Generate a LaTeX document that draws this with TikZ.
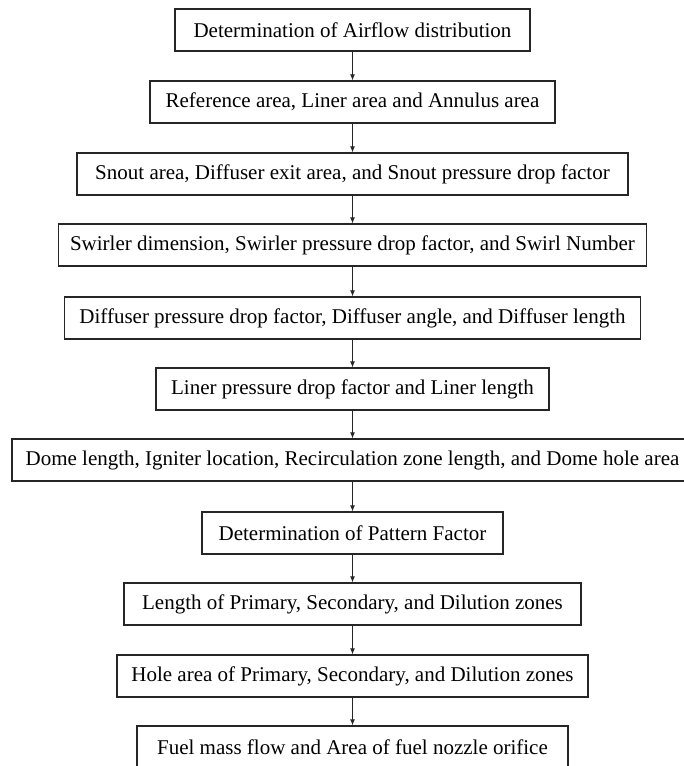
\documentclass[tikz,border=0pt]{standalone}
\usepackage{fontspec}
\setmainfont{Liberation Serif}
\usetikzlibrary{arrows.meta}

\begin{document}
\begin{tikzpicture}[x=1pt, y=-1pt,
  stepbox/.style={draw=black!85, line width=1.2pt, minimum height=42pt, inner sep=0pt,
    font=\fontsize{21}{25}\selectfont},
  flow/.style={-{Latex[length=6pt,width=5pt]}, line width=1pt, black!85}]
\useasboundingbox (0,0) rectangle (683,766);

% design steps, top to bottom
\node[stepbox, minimum width=355pt] (airflow) at (352.5,30) {Determination of Airflow distribution};
\node[stepbox, minimum width=405pt] (areas) at (352.5,102) {Reference area, Liner area and Annulus area};
\node[stepbox, minimum width=551pt] (snout) at (352.5,174) {Snout area, Diffuser exit area, and Snout pressure drop factor};
\node[stepbox, minimum width=588pt] (swirler) at (352.5,245) {Swirler dimension, Swirler pressure drop factor, and Swirl Number};
\node[stepbox, minimum width=576pt] (diffuser) at (352.5,318) {Diffuser pressure drop factor, Diffuser angle, and Diffuser length};
\node[stepbox, minimum width=393pt] (liner) at (352.5,389) {Liner pressure drop factor and Liner length};
\node[stepbox, minimum width=681pt] (dome) at (352.5,460) {Dome length, Igniter location, Recirculation zone length, and Dome hole area};
\node[stepbox, minimum width=301pt] (pattern) at (352.5,533) {Determination of Pattern Factor};
\node[stepbox, minimum width=457pt] (zonelen) at (352.5,604) {Length of Primary, Secondary, and Dilution zones};
\node[stepbox, minimum width=471pt] (holearea) at (352.5,676) {Hole area of Primary, Secondary, and Dilution zones};
\node[stepbox, minimum width=431pt] (fuel) at (352.5,747) {Fuel mass flow and Area of fuel nozzle orifice};

% arrows between steps
\draw[flow] (airflow.south) -- (areas.north);
\draw[flow] (areas.south) -- (snout.north);
\draw[flow] (snout.south) -- (swirler.north);
\draw[flow] (swirler.south) -- (diffuser.north);
\draw[flow] (diffuser.south) -- (liner.north);
\draw[flow] (liner.south) -- (dome.north);
\draw[flow] (dome.south) -- (pattern.north);
\draw[flow] (pattern.south) -- (zonelen.north);
\draw[flow] (zonelen.south) -- (holearea.north);
\draw[flow] (holearea.south) -- (fuel.north);
\end{tikzpicture}
\end{document}
